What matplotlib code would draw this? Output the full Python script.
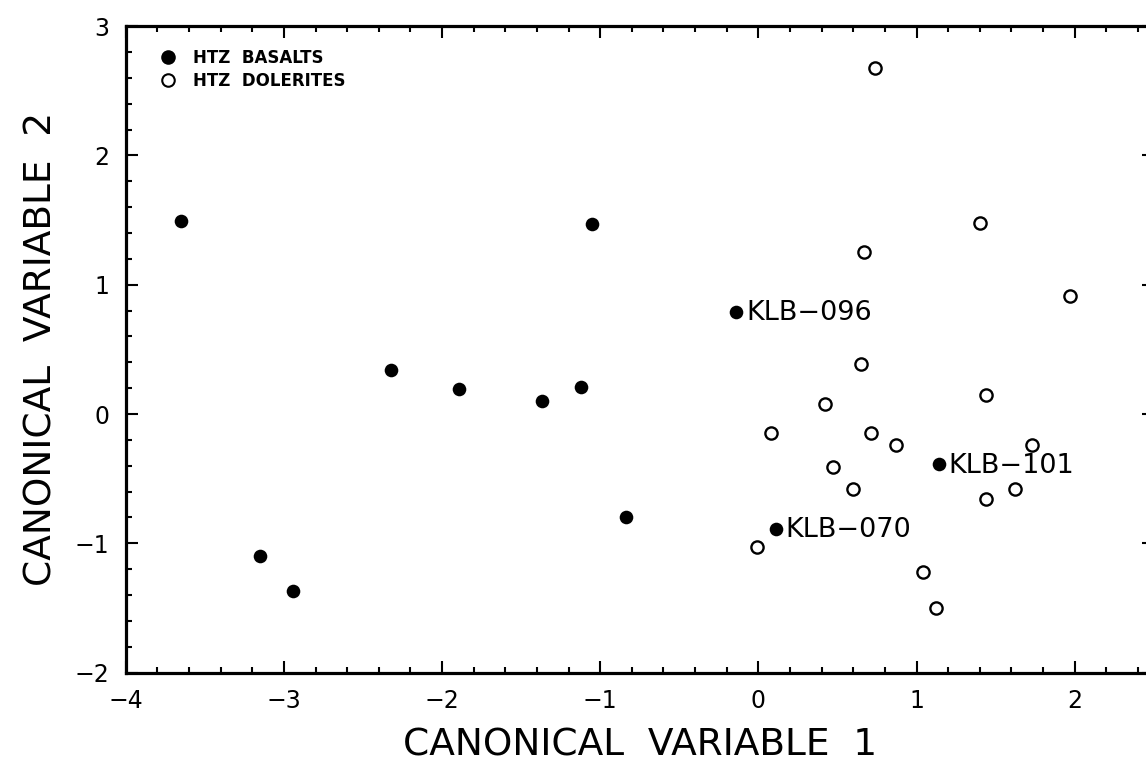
import numpy as np
import matplotlib
matplotlib.use("Agg")
import matplotlib.pyplot as plt
from matplotlib.ticker import MultipleLocator
from matplotlib.lines import Line2D

# canonical scores, HTZ basalts (filled)
basalt_cv1 = [-3.65, -2.32, -1.89, -3.15, -2.94, -1.05, -0.14, -1.12, -1.37, -0.84, 0.11, 1.14]
basalt_cv2 = [1.49, 0.34, 0.19, -1.10, -1.37, 1.47, 0.79, 0.21, 0.10, -0.80, -0.89, -0.39]

# canonical scores, HTZ dolerites (open)
dolerite_cv1 = [0.74, 1.40, 0.67, 1.97, 0.65, 1.44, 0.42, 0.08, 0.71, 0.87,
                1.73, 0.47, 0.60, 1.62, 1.44, -0.01, 1.04, 1.12]
dolerite_cv2 = [2.68, 1.48, 1.25, 0.91, 0.39, 0.15, 0.08, -0.15, -0.15, -0.24,
                -0.24, -0.41, -0.58, -0.58, -0.66, -1.03, -1.22, -1.50]

# labelled basalt samples
label_names = ["KLB\u2212096", "KLB\u2212070", "KLB\u2212101"]
label_cv1 = [-0.14, 0.11, 1.14]
label_cv2 = [0.79, -0.89, -0.39]

plt.rcParams['font.family'] = ['DejaVu Sans']
plt.rcParams['axes.unicode_minus'] = True

fig = plt.figure(figsize=(11.46, 7.64), dpi=100)
ax = fig.add_axes([0.1097, 0.1196, 0.8971, 0.8462])

ax.plot(basalt_cv1, basalt_cv2, 'o', color='black', markersize=9.8, markeredgewidth=0)
ax.plot(dolerite_cv1, dolerite_cv2, 'o', markerfacecolor='white', markeredgecolor='black',
        markersize=8.8, markeredgewidth=1.7)

for name, x, y in zip(label_names, label_cv1, label_cv2):
    ax.annotate(name, (x, y), xytext=(7, -1), textcoords='offset points',
                ha='left', va='center', fontsize=19.5)

ax.set_xlim(-4, 2.5)
ax.set_ylim(-2, 3)
ax.xaxis.set_major_locator(MultipleLocator(1))
ax.xaxis.set_minor_locator(MultipleLocator(0.2))
ax.yaxis.set_major_locator(MultipleLocator(1))
ax.yaxis.set_minor_locator(MultipleLocator(0.2))
ax.tick_params(which='both', direction='in', top=True, right=True, width=1.5)
ax.tick_params(which='major', length=8.5, labelsize=17, pad=12)
ax.tick_params(which='minor', length=4)
for s in ax.spines.values():
    s.set_linewidth(2.3)

ax.set_xlabel("CANONICAL  VARIABLE  1", fontsize=27, labelpad=10)
ax.set_ylabel("CANONICAL  VARIABLE  2", fontsize=27, labelpad=11)

handles = [
    Line2D([], [], marker='o', linestyle='none', color='black', markersize=10.5, markeredgewidth=0),
    Line2D([], [], marker='o', linestyle='none', markerfacecolor='white',
           markeredgecolor='black', markersize=9, markeredgewidth=1.5),
]
ax.legend(handles, ["HTZ  BASALTS", "HTZ  DOLERITES"], loc='upper left',
          bbox_to_anchor=(0.027, 0.975), frameon=False,
          prop={'weight': 'bold', 'size': 12}, handletextpad=1.0,
          labelspacing=0.3, borderaxespad=0, handlelength=1.0)

fig.savefig('out.png', dpi=100)
